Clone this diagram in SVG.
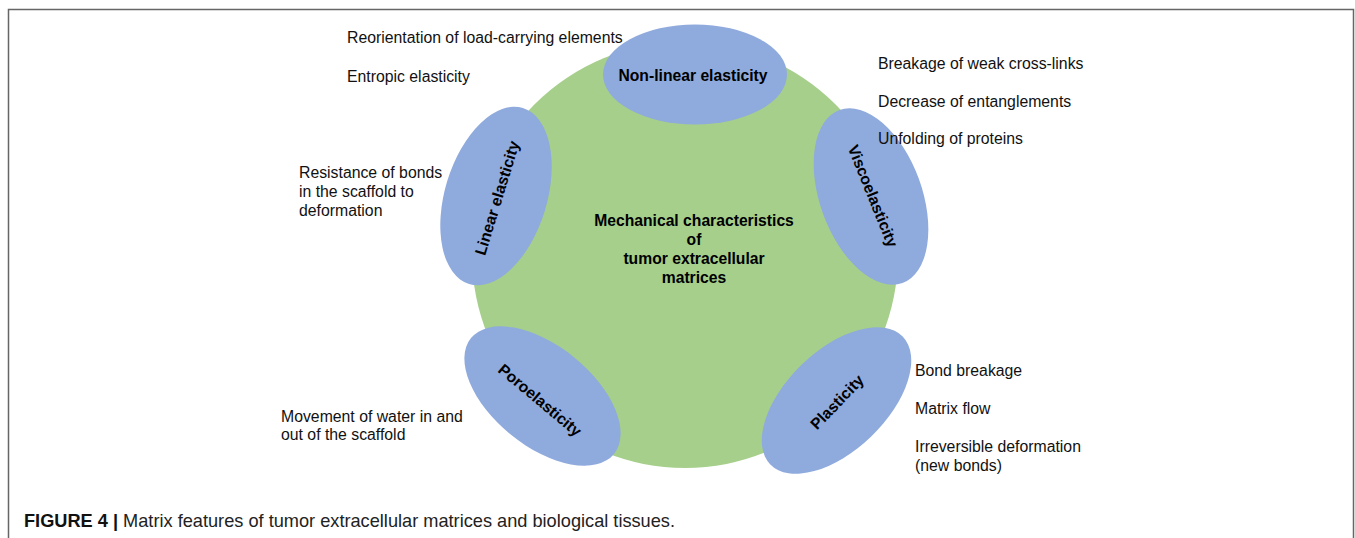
<svg xmlns="http://www.w3.org/2000/svg" width="1355" height="538" viewBox="0 0 1355 538">
<style>
.lbl{font-family:"Liberation Sans",Arial,sans-serif;font-size:15.8px;fill:#111}
.node{fill:#8FAADC}
.nt{font-family:"Liberation Sans",Arial,sans-serif;font-size:15.7px;font-weight:bold;fill:#000;text-anchor:middle}
.cap{font-family:"Liberation Sans",Arial,sans-serif;font-size:18.2px;fill:#222}
</style>
<rect width="1355" height="538" fill="#fff"/>
<path d="M8.5,545 V9.5 H1353.5 V545" fill="none" stroke="#666" stroke-width="1.5"/>
<g id="center">
<circle cx="685" cy="255" r="213" fill="#A6CF8B"/>
<text class="nt"><tspan x="694" y="226">Mechanical characteristics</tspan><tspan x="694" y="245">of</tspan><tspan x="694" y="264">tumor extracellular</tspan><tspan x="694" y="283">matrices</tspan></text>
</g>
<g id="nonlinear">
<ellipse class="node" cx="695" cy="74.5" rx="92" ry="50"/>
<text class="nt" x="693" y="81">Non-linear elasticity</text>
</g>
<g id="linear">
<ellipse class="node" cx="496" cy="196" rx="92" ry="51" transform="rotate(-73 496 196)"/>
<text class="nt" transform="translate(497 198) rotate(-73)" x="0" y="5.5">Linear elasticity</text>
</g>
<g id="visco">
<ellipse class="node" cx="871" cy="196.5" rx="92" ry="51" transform="rotate(70 871 196.5)"/>
<text class="nt" transform="translate(873 196) rotate(68)" x="0" y="5.5">Viscoelasticity</text>
</g>
<g id="poro">
<ellipse class="node" cx="542.5" cy="396" rx="92" ry="50" transform="rotate(39 542.5 396)"/>
<text class="nt" transform="translate(540 400) rotate(40)" x="0" y="5.5">Poroelasticity</text>
</g>
<g id="plastic">
<ellipse class="node" cx="836.5" cy="400.5" rx="92" ry="50" transform="rotate(-44 836.5 400.5)"/>
<text class="nt" transform="translate(837 402) rotate(-46)" x="0" y="5.5">Plasticity</text>
</g>
<g id="labels">
<text class="lbl" x="347" y="43">Reorientation of load-carrying elements</text>
<text class="lbl" x="347" y="81.5">Entropic elasticity</text>
<text class="lbl" x="299" y="178">Resistance of bonds</text>
<text class="lbl" x="299" y="196.5">in the scaffold to</text>
<text class="lbl" x="299" y="215.5">deformation</text>
<text class="lbl" x="878" y="69">Breakage of weak cross-links</text>
<text class="lbl" x="878" y="106.5">Decrease of entanglements</text>
<text class="lbl" x="878" y="144">Unfolding of proteins</text>
<text class="lbl" x="281" y="421.5">Movement of water in and</text>
<text class="lbl" x="281" y="440">out of the scaffold</text>
<text class="lbl" x="915" y="375.5">Bond breakage</text>
<text class="lbl" x="915" y="414">Matrix flow</text>
<text class="lbl" x="915" y="452">Irreversible deformation</text>
<text class="lbl" x="915" y="470.5">(new bonds)</text>
</g>
<text class="cap" x="24" y="527"><tspan font-weight="bold" fill="#111">FIGURE 4 |</tspan> Matrix features of tumor extracellular matrices and biological tissues.</text>
</svg>
